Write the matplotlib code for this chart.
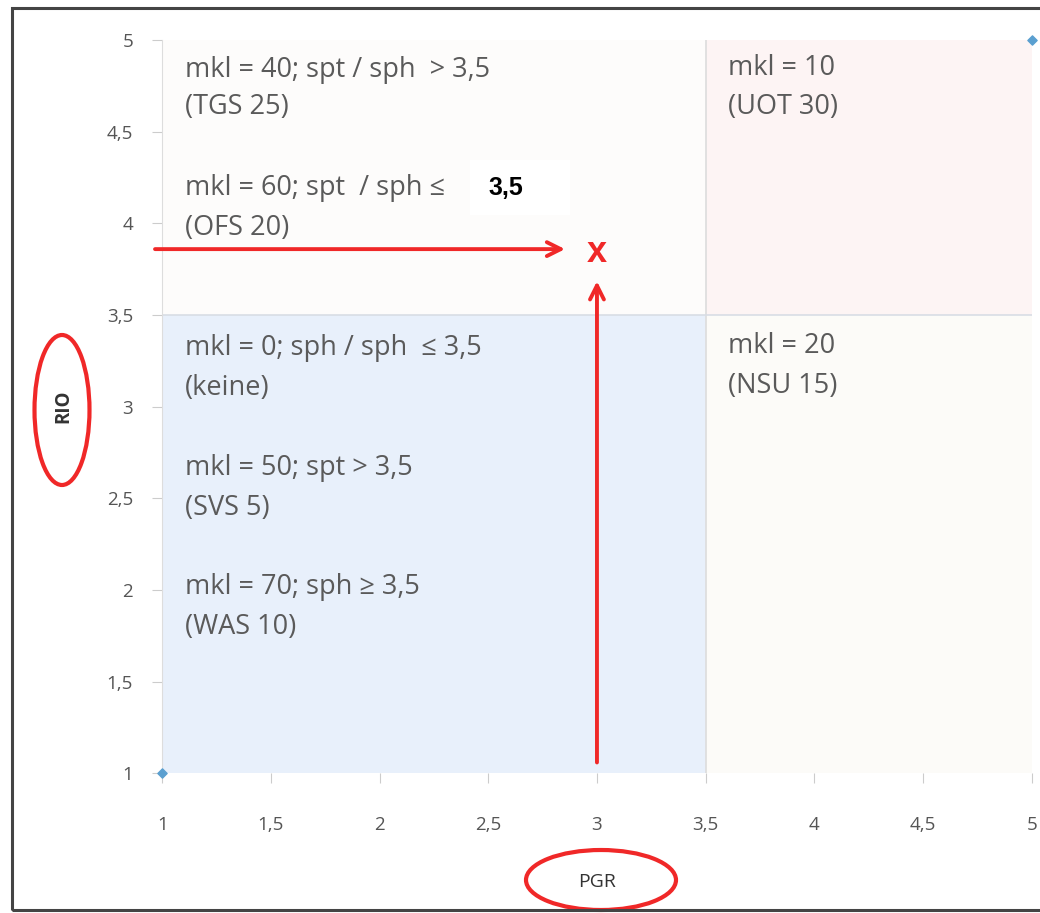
import matplotlib.pyplot as plt
from matplotlib.patches import Rectangle, Ellipse

plt.rcParams['font.family'] = ['Open Sans', 'DejaVu Sans']

# axis ticks
x_ticks = [1, 1.5, 2, 2.5, 3, 3.5, 4, 4.5, 5]
y_ticks = [1, 1.5, 2, 2.5, 3, 3.5, 4, 4.5, 5]
x_tick_labels = ['1', '1,5', '2', '2,5', '3', '3,5', '4', '4,5', '5']
y_tick_labels = ['1', '1,5', '2', '2,5', '3', '3,5', '4', '4,5', '5']

# quadrant split (PGR / RIO threshold)
threshold = 3.5
axis_min = 1
axis_max = 5

# corner series points of the original chart
corner_x = [1, 5]
corner_y = [1, 5]

# quadrant texts and the y position of each line
ul_lines = ['mkl = 40; spt / sph  > 3,5', '(TGS 25)', 'mkl = 60; spt  / sph \u2264', '(OFS 20)']
ul_y = [4.837, 4.635, 4.193, 3.975]
ur_lines = ['mkl = 10', '(UOT 30)']
ur_y = [4.848, 4.635]
ll_lines = ['mkl = 0; sph / sph  \u2264 3,5', '(keine)', 'mkl = 50; spt > 3,5', '(SVS 5)',
            'mkl = 70; sph \u2265 3,5', '(WAS 10)']
ll_y = [3.320, 3.102, 2.665, 2.447, 2.015, 1.797]
lr_lines = ['mkl = 20', '(NSU 15)']
lr_y = [3.331, 3.112]

# marked point
point_x = 3
point_y = 3.84

fig = plt.figure(figsize=(10.4, 9.13), dpi=100)
ax = fig.add_axes([0.156, 0.153, 0.836, 0.803])
ax.set_xlim(axis_min, axis_max)
ax.set_ylim(axis_min, axis_max)

# quadrant backgrounds
quad_colors = {'ll': '#e8f0fb', 'ul': '#fdfcfb', 'ur': '#fdf4f4', 'lr': '#fcfbf8'}
ax.add_patch(Rectangle((axis_min, axis_min), threshold - axis_min, threshold - axis_min,
                       facecolor=quad_colors['ll'], edgecolor='none'))
ax.add_patch(Rectangle((axis_min, threshold), threshold - axis_min, axis_max - threshold,
                       facecolor=quad_colors['ul'], edgecolor='none'))
ax.add_patch(Rectangle((threshold, threshold), axis_max - threshold, axis_max - threshold,
                       facecolor=quad_colors['ur'], edgecolor='none'))
ax.add_patch(Rectangle((threshold, axis_min), axis_max - threshold, threshold - axis_min,
                       facecolor=quad_colors['lr'], edgecolor='none'))
ax.axvline(threshold, color='#dcdcdc', lw=1.2)
ax.axhline(threshold, color='#d8dde5', lw=1.2)

for s in ['top', 'right', 'bottom']:
    ax.spines[s].set_visible(False)
ax.spines['left'].set_color('#dddddd')

ax.scatter(corner_x, corner_y, marker='D', s=22, color='#5a9fd0', clip_on=False, zorder=5)

ax.set_xticks(x_ticks)
ax.set_xticklabels(x_tick_labels)
ax.set_yticks(y_ticks)
ax.set_yticklabels(y_tick_labels)
ax.tick_params(axis='both', colors='#cccccc', labelcolor='#555555', labelsize=13.5, length=7)
ax.tick_params(axis='x', pad=24)
ax.tick_params(axis='y', pad=14)

ax.set_xlabel('PGR', fontsize=14, color='#333333', labelpad=28)
ax.set_ylabel('RIO', fontsize=13.5, color='#333333', fontweight='bold', labelpad=24)

text_style = dict(fontsize=19.5, color='#5a5a5a', va='center', ha='left')
x_left = 1.106
x_right = 3.601
for txt, yy in zip(ul_lines, ul_y):
    ax.text(x_left, yy, txt, **text_style)
for txt, yy in zip(ur_lines, ur_y):
    ax.text(x_right, yy, txt, **text_style)
for txt, yy in zip(ll_lines, ll_y):
    ax.text(x_left, yy, txt, **text_style)
for txt, yy in zip(lr_lines, lr_y):
    ax.text(x_right, yy, txt, **text_style)

# highlighted threshold value on a white box
ax.add_patch(Rectangle((2.415, 4.046), 0.46, 0.30, facecolor='white', edgecolor='none', zorder=3))
ax.text(2.58, 4.193, '3,5', fontsize=18, fontweight='bold', color='black',
        family='Liberation Sans', ha='center', va='center', zorder=4)

# red arrows pointing to the point
red = '#f02828'
ax.annotate('', xy=(point_x - 0.134, point_y + 0.02), xytext=(0.954, point_y + 0.02),
            arrowprops=dict(arrowstyle='->,head_length=1.0,head_width=0.5', color=red, lw=2.8),
            annotation_clip=False)
ax.annotate('', xy=(point_x, point_y - 0.14), xytext=(point_x, 1.044),
            arrowprops=dict(arrowstyle='->,head_length=1.0,head_width=0.5', color=red, lw=2.8),
            annotation_clip=False)
ax.text(point_x, point_y, 'x', fontsize=26, fontweight='bold', color=red,
        family='Liberation Sans', ha='center', va='center')

# red ellipses around the axis labels
fig.patches.append(Ellipse((62 / 1040, 1 - 410 / 913), 55 / 1040, 150 / 913,
                           transform=fig.transFigure, fill=False, edgecolor=red, lw=3))
fig.patches.append(Ellipse((601 / 1040, 1 - 880 / 913), 150 / 1040, 60 / 913,
                           transform=fig.transFigure, fill=False, edgecolor=red, lw=3))

# outer frame
fig.patches.append(Rectangle((12 / 1040, 3 / 913), 1.05, 1 - 11 / 913,
                             transform=fig.transFigure, fill=False, edgecolor='#444444', lw=2.2))

plt.savefig('out.png', dpi=100)
